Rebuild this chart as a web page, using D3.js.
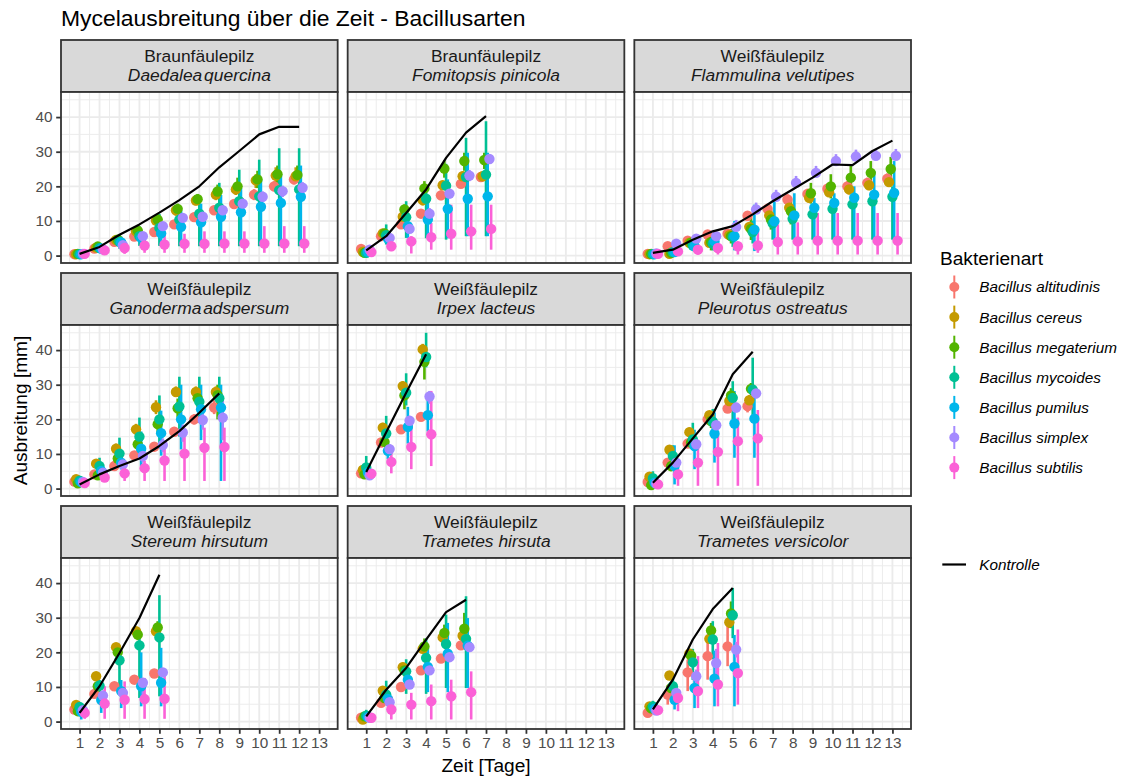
<!DOCTYPE html>
<html>
<head>
<meta charset="utf-8">
<script src="https://cdn.jsdelivr.net/npm/d3@7"></script>
<style>
  body { margin: 0; background: #ffffff; }
  text { font-family: "Liberation Sans", Arial, sans-serif; }
</style>
</head>
<body>
<svg id="chart" width="1124" height="776"></svg>
<script>
// ---- labels -------------------------------------------------------------
const speciesNames = ["Bacillus altitudinis", "Bacillus cereus", "Bacillus megaterium",
  "Bacillus mycoides", "Bacillus pumilus", "Bacillus simplex", "Bacillus subtilis"];
const speciesColors = ["#F8766D", "#C49A00", "#53B400", "#00C094", "#00B6EB", "#A58AFF", "#FB61D7"];
const dayTicks = [1, 2, 3, 4, 5, 6, 7, 8, 9, 10, 11, 12, 13];
const yTicks = [0, 10, 20, 30, 40];
const decayTypes = ["Braunfäulepilz", "Braunfäulepilz", "Weißfäulepilz", "Weißfäulepilz",
  "Weißfäulepilz", "Weißfäulepilz", "Weißfäulepilz", "Weißfäulepilz", "Weißfäulepilz"];
const fungusNames = ["Daedalea quercina", "Fomitopsis pinicola", "Flammulina velutipes",
  "Ganoderma adspersum", "Irpex lacteus", "Pleurotus ostreatus", "Stereum hirsutum",
  "Trametes hirsuta", "Trametes versicolor"];

// ---- growth in mm per day: one row per Bacillus species ----------------
const daedaleaMean = [
  [0.4, 2.0, 4.0, 5.5, 6.8, 9.0, 11.1, 13.1, 14.9, 17.6, 20.0, 22.0],
  [0.4, 2.3, 4.5, 7.0, 10.1, 13.1, 15.9, 17.6, 19.1, 21.7, 23.1, 22.9],
  [0.5, 2.6, 4.6, 7.2, 10.4, 13.5, 16.3, 18.5, 20.0, 22.0, 23.5, 23.3],
  [0.4, 2.2, 4.0, 5.6, 8.0, 10.4, 12.1, 13.8, 15.7, 17.1, 18.9, 19.1],
  [0.4, 2.0, 3.8, 5.1, 6.4, 8.3, 9.6, 11.2, 12.5, 14.1, 15.2, 17.0],
  [0.5, 1.8, 3.0, 5.6, 8.5, 10.9, 11.2, 13.1, 15.0, 17.0, 18.6, 19.6],
  [0.5, 1.5, 2.2, 2.9, 3.2, 3.4, 3.4, 3.5, 3.5, 3.5, 3.5, 3.5]];
const daedaleaLow = [
  [0.1, 1.5, 3.4, 4.8, 6.0, 8.0, 9.8, 11.8, 13.6, 16.0, 18.5, 20.5],
  [0.1, 1.8, 3.8, 6.0, 8.8, 11.5, 14.5, 16.0, 17.5, 19.5, 21.0, 21.0],
  [0.2, 2.0, 4.0, 6.2, 9.0, 12.0, 14.8, 16.5, 18.0, 19.5, 21.0, 21.0],
  [0.1, 1.2, 2.0, 2.8, 2.8, 2.7, 2.7, 2.7, 2.7, 2.7, 2.7, 2.7],
  [0.1, 1.2, 2.5, 3.2, 3.5, 3.0, 2.8, 2.8, 2.8, 2.8, 2.8, 2.8],
  [0.2, 1.2, 2.2, 4.5, 7.2, 9.6, 9.5, 11.6, 13.4, 15.5, 16.9, 18.0],
  [0.2, 0.6, 0.5, 0.8, 0.8, 0.8, 0.8, 0.8, 0.8, 0.8, 0.8, 0.8]];
const daedaleaHigh = [
  [0.8, 2.5, 4.6, 6.2, 7.6, 10.0, 12.4, 14.4, 16.2, 19.2, 21.5, 23.5],
  [0.8, 2.8, 5.2, 8.0, 11.2, 14.5, 17.5, 19.5, 21.0, 23.5, 25.5, 25.5],
  [0.9, 3.0, 5.3, 8.3, 11.8, 15.0, 17.8, 20.5, 22.5, 24.5, 26.0, 26.0],
  [0.8, 3.5, 6.0, 8.5, 12.0, 13.5, 16.0, 21.0, 24.8, 27.7, 31.0, 31.0],
  [0.8, 3.0, 5.5, 7.5, 10.0, 13.0, 15.0, 17.5, 19.5, 22.0, 23.5, 26.0],
  [0.8, 2.4, 4.0, 6.6, 9.8, 12.2, 12.9, 14.6, 16.6, 18.5, 20.2, 21.2],
  [0.8, 2.5, 4.5, 5.0, 6.3, 6.3, 7.0, 7.0, 7.0, 8.5, 8.5, 8.5]];
const daedaleaControl = [0.5, 2.5, 6.0, 9.0, 12.4, 16.0, 20.0, 25.5, 30.2, 35.0, 37.2, 37.2];

const fomitopsisMean = [
  [1.9, 5.6, 9.0, 12.1, 17.4, 20.7, 22.7],
  [1.1, 6.4, 11.2, 16.0, 20.3, 22.9, 22.9],
  [0.8, 6.4, 13.3, 19.4, 25.1, 27.3, 27.6],
  [0.8, 5.9, 11.1, 16.4, 20.2, 22.7, 23.4],
  [1.1, 4.9, 8.5, 10.4, 13.5, 16.4, 17.1],
  [1.7, 5.1, 7.7, 12.1, 17.9, 23.1, 27.9],
  [1.0, 2.7, 4.1, 5.3, 6.3, 7.0, 7.7]];
const fomitopsisLow = [
  [1.2, 4.8, 8.0, 11.0, 16.0, 19.5, 21.5],
  [0.5, 5.5, 10.0, 14.5, 19.0, 21.5, 21.5],
  [0.3, 5.5, 12.0, 17.5, 22.5, 24.5, 25.0],
  [0.3, 3.2, 5.1, 5.0, 4.6, 5.6, 5.6],
  [0.4, 3.0, 5.0, 5.5, 5.0, 5.6, 5.6],
  [1.0, 4.2, 6.5, 10.5, 16.5, 21.5, 26.5],
  [0.4, 1.3, 0.6, 1.7, 1.7, 1.7, 1.7]];
const fomitopsisHigh = [
  [2.6, 6.4, 10.0, 13.2, 18.8, 22.0, 24.0],
  [1.8, 7.3, 12.4, 17.5, 21.6, 24.3, 24.3],
  [1.4, 7.5, 14.8, 21.5, 27.5, 29.7, 29.7],
  [1.6, 9.0, 15.7, 20.0, 26.5, 34.0, 38.8],
  [1.8, 6.8, 12.0, 15.5, 22.0, 29.7, 29.7],
  [2.4, 6.0, 8.9, 13.7, 19.3, 24.7, 29.3],
  [1.6, 4.1, 5.6, 9.4, 14.7, 14.7, 14.7]];
const fomitopsisControl = [1.5, 5.6, 12.3, 19.1, 28.2, 35.5, 40.3];

const flammulinaMean = [
  [0.5, 2.7, 4.3, 6.1, 6.3, 11.5, 13.5, 16.2, 17.8, 19.3, 20.0, 21.0, 22.2],
  [0.4, 0.5, 3.7, 3.7, 5.9, 8.3, 11.6, 13.8, 16.7, 18.3, 19.1, 20.3, 21.2],
  [0.5, 0.8, 3.7, 3.9, 5.6, 7.7, 10.4, 12.8, 18.0, 20.0, 22.5, 23.9, 25.0],
  [0.4, 1.0, 2.9, 3.5, 5.4, 6.8, 9.3, 10.6, 11.9, 13.5, 14.8, 15.7, 17.0],
  [0.4, 1.0, 2.7, 4.1, 5.6, 7.5, 9.9, 11.6, 13.8, 15.2, 16.7, 17.6, 18.1],
  [0.6, 3.4, 4.9, 5.6, 8.3, 13.3, 17.0, 21.0, 23.9, 27.3, 28.6, 28.8, 28.8],
  [0.5, 1.2, 1.7, 2.2, 2.7, 2.9, 3.9, 4.1, 4.3, 4.3, 4.3, 4.3, 4.3]];
const flammulinaLow = [
  [0.2, 2.0, 3.4, 5.2, 5.3, 10.2, 12.0, 14.7, 16.3, 17.8, 18.5, 19.5, 20.7],
  [0.1, 0.2, 2.9, 2.9, 4.9, 7.1, 10.2, 12.4, 15.3, 16.9, 17.7, 18.9, 19.8],
  [0.2, 0.3, 2.5, 1.5, 3.5, 4.5, 7.5, 9.0, 15.0, 16.5, 19.0, 20.5, 21.5],
  [0.1, 0.3, 1.5, 1.5, 2.5, 3.5, 4.6, 4.6, 4.6, 4.6, 4.6, 4.6, 4.6],
  [0.1, 0.3, 1.2, 1.5, 1.5, 1.3, 4.6, 4.6, 4.6, 4.6, 4.6, 4.6, 4.6],
  [0.3, 2.6, 3.9, 4.6, 7.3, 12.3, 16.0, 20.0, 22.9, 26.3, 27.6, 27.8, 27.8],
  [0.2, 0.4, 0.3, 0.3, 0.3, 0.8, 0.3, 0.3, 0.3, 0.3, 0.3, 0.3, 0.3]];
const flammulinaHigh = [
  [0.8, 3.4, 5.2, 7.0, 7.3, 12.8, 15.0, 17.7, 19.3, 20.8, 21.5, 22.5, 23.7],
  [0.7, 0.8, 4.5, 4.5, 6.9, 9.5, 13.0, 15.2, 18.1, 19.7, 20.5, 21.7, 22.6],
  [0.8, 1.3, 4.9, 6.3, 7.7, 10.9, 13.3, 16.6, 21.0, 23.5, 26.0, 27.3, 28.5],
  [0.7, 1.7, 4.3, 5.5, 8.3, 10.1, 12.3, 13.6, 14.9, 16.5, 17.8, 18.7, 20.0],
  [0.7, 1.7, 4.2, 6.7, 10.0, 14.7, 18.1, 18.0, 16.6, 18.0, 20.0, 24.4, 27.3],
  [0.9, 4.2, 5.9, 6.6, 10.3, 15.3, 19.0, 23.0, 25.9, 29.3, 30.6, 30.8, 30.8],
  [0.8, 2.0, 3.2, 3.5, 4.0, 7.5, 9.0, 9.6, 12.3, 12.3, 12.3, 12.3, 12.3]];
const flammulinaControl = [0.8, 1.7, 4.6, 7.0, 8.5, 11.9, 15.7, 19.1, 22.5, 26.3, 26.1, 30.2, 33.2];

const ganodermaMean = [
  [2.0, 4.1, 6.5, 9.6, 12.1, 16.4, 20.0, 23.4],
  [2.7, 7.2, 11.5, 17.1, 23.5, 27.9, 27.9, 27.9],
  [1.5, 3.8, 8.7, 12.8, 18.6, 23.2, 26.1, 27.0],
  [2.3, 6.5, 10.1, 15.0, 20.0, 23.7, 25.1, 26.1],
  [1.9, 5.1, 7.5, 11.5, 16.0, 20.0, 22.9, 23.4],
  [1.9, 4.6, 7.0, 9.4, 12.6, 16.2, 19.8, 20.5],
  [1.6, 3.2, 4.4, 5.9, 8.1, 10.1, 11.8, 12.0]];
const ganodermaLow = [
  [1.5, 3.3, 5.5, 8.5, 11.0, 15.0, 18.5, 21.5],
  [1.8, 6.0, 10.0, 15.5, 21.5, 26.5, 26.5, 26.5],
  [0.8, 2.5, 6.5, 10.5, 16.0, 20.5, 23.5, 20.0],
  [1.5, 4.5, 6.5, 8.5, 13.0, 15.0, 19.0, 20.0],
  [1.0, 3.5, 5.5, 6.5, 9.5, 11.3, 14.0, 2.2],
  [1.2, 3.5, 5.5, 7.5, 10.5, 13.5, 17.0, 14.0],
  [1.0, 2.2, 2.2, 2.2, 2.2, 2.2, 2.2, 2.2]];
const ganodermaHigh = [
  [2.6, 5.0, 7.5, 10.7, 13.2, 17.8, 21.5, 25.5],
  [3.5, 8.5, 13.0, 18.7, 25.5, 29.5, 29.5, 29.5],
  [2.3, 5.0, 11.0, 15.0, 21.0, 26.0, 28.5, 30.0],
  [3.2, 8.9, 14.7, 20.5, 26.9, 32.3, 32.3, 32.3],
  [2.8, 6.8, 9.8, 16.5, 22.5, 30.0, 30.0, 30.0],
  [2.6, 5.6, 8.5, 11.2, 14.5, 18.5, 22.5, 26.0],
  [2.3, 4.5, 6.3, 8.0, 12.3, 15.2, 17.6, 17.6]];
const ganodermaControl = [1.2, 4.1, 6.5, 8.7, 12.3, 16.6, 21.9, 27.5];

const irpexMean = [
  [4.4, 13.3, 17.1, 20.7],
  [5.4, 17.6, 29.6, 40.2],
  [4.1, 13.5, 26.9, 36.6],
  [6.1, 15.9, 27.7, 38.0],
  [4.6, 10.9, 17.8, 21.2],
  [3.8, 11.4, 19.6, 26.6],
  [4.3, 7.7, 12.0, 15.7]];
const irpexLow = [
  [3.6, 12.3, 16.0, 19.7],
  [4.5, 16.0, 28.0, 38.5],
  [3.2, 12.0, 22.9, 31.5],
  [4.0, 12.0, 24.0, 35.0],
  [3.5, 8.5, 13.0, 16.5],
  [3.0, 10.0, 18.0, 24.5],
  [3.0, 4.4, 5.6, 6.5]];
const irpexHigh = [
  [5.2, 14.3, 18.2, 21.7],
  [6.3, 19.0, 31.0, 41.8],
  [5.0, 15.0, 29.5, 39.0],
  [9.4, 21.0, 33.3, 45.0],
  [5.8, 13.5, 23.6, 27.0],
  [4.6, 12.8, 21.0, 28.2],
  [5.5, 11.5, 19.5, 28.2]];
const irpexControl = [4.8, 16.3, 27.7, 38.8];

const pleurotusMean = [
  [1.9, 7.5, 13.0, 20.0, 23.1, 23.8],
  [3.4, 11.2, 16.3, 21.2, 25.3, 25.5],
  [1.0, 6.5, 13.3, 19.5, 26.9, 28.8],
  [3.0, 9.4, 14.2, 19.3, 26.2, 28.6],
  [1.7, 6.5, 12.3, 15.9, 18.8, 20.2],
  [1.4, 7.5, 12.8, 18.3, 23.4, 27.5],
  [1.2, 4.1, 7.5, 10.6, 13.7, 14.5]];
const pleurotusLow = [
  [1.0, 6.5, 12.0, 19.0, 22.0, 22.0],
  [2.5, 10.0, 15.0, 20.0, 24.0, 24.0],
  [0.4, 5.0, 11.5, 17.5, 24.0, 27.0],
  [1.5, 6.5, 11.5, 14.5, 20.0, 20.0],
  [0.5, 1.2, 5.6, 7.5, 8.9, 8.9],
  [0.8, 6.5, 11.5, 17.0, 22.0, 26.0],
  [0.4, 0.8, 0.8, 0.8, 0.8, 0.8]];
const pleurotusHigh = [
  [2.8, 8.5, 14.0, 21.0, 24.2, 25.5],
  [4.3, 12.4, 17.6, 22.4, 26.6, 27.0],
  [1.8, 8.0, 15.0, 21.5, 29.0, 30.5],
  [5.0, 12.5, 19.0, 23.0, 31.0, 37.8],
  [3.0, 12.5, 17.0, 22.0, 28.2, 28.2],
  [2.0, 8.5, 14.0, 19.5, 24.8, 29.0],
  [2.0, 6.0, 12.0, 15.8, 20.5, 22.7]];
const pleurotusControl = [1.7, 7.5, 14.5, 21.4, 33.0, 39.5];

const stereumMean = [
  [3.5, 8.0, 10.2, 12.1, 13.9],
  [4.8, 13.1, 21.5, 26.1, 26.1],
  [3.0, 10.2, 20.0, 25.1, 27.2],
  [4.2, 10.4, 17.7, 22.0, 24.3],
  [2.8, 6.2, 8.8, 10.2, 11.2],
  [3.3, 7.5, 8.3, 11.2, 14.2],
  [2.5, 5.2, 6.3, 6.5, 6.6]];
const stereumLow = [
  [2.7, 7.0, 9.2, 11.0, 12.8],
  [4.0, 12.0, 20.3, 25.0, 25.0],
  [2.3, 9.0, 18.5, 23.5, 25.5],
  [3.3, 8.5, 9.0, 6.8, 7.3],
  [0.6, 2.5, 3.9, 4.4, 4.4],
  [2.5, 6.0, 7.0, 6.0, 13.0],
  [0.8, 0.8, 0.8, 0.8, 0.8]];
const stereumHigh = [
  [4.3, 9.0, 11.2, 13.2, 15.0],
  [5.6, 14.2, 22.7, 27.2, 27.2],
  [3.8, 11.5, 21.5, 26.8, 29.0],
  [5.2, 12.0, 22.0, 24.6, 36.5],
  [4.0, 8.5, 12.0, 20.0, 21.3],
  [4.1, 9.0, 9.6, 12.5, 15.4],
  [4.0, 10.2, 11.6, 12.6, 13.5]];
const stereumControl = [2.5, 10.2, 19.8, 29.9, 42.4];

const hirsutaMean = [
  [1.1, 5.4, 10.0, 14.8, 18.2, 22.0],
  [0.6, 8.9, 15.7, 21.0, 24.3, 24.8],
  [1.5, 6.8, 14.8, 21.7, 25.6, 26.8],
  [1.7, 7.8, 14.5, 18.4, 22.4, 23.9],
  [1.3, 6.5, 12.1, 15.8, 19.6, 21.9],
  [1.1, 5.6, 10.7, 14.8, 18.6, 21.5],
  [1.1, 3.5, 4.9, 5.9, 7.3, 8.5]];
const hirsutaLow = [
  [0.6, 4.5, 9.0, 13.8, 17.0, 20.8],
  [0.2, 7.8, 14.5, 19.8, 23.0, 23.5],
  [0.8, 5.5, 13.0, 19.5, 22.0, 24.0],
  [0.6, 5.0, 8.0, 8.0, 9.7, 9.7],
  [0.6, 4.5, 9.5, 8.5, 8.5, 9.7],
  [0.6, 4.6, 9.6, 13.6, 17.4, 20.2],
  [0.6, 0.6, 0.6, 0.6, 0.6, 0.6]];
const hirsutaHigh = [
  [1.6, 6.3, 11.0, 15.8, 19.4, 23.2],
  [1.2, 10.0, 17.0, 22.2, 25.6, 26.2],
  [2.2, 8.5, 17.0, 24.0, 28.0, 31.4],
  [3.4, 11.8, 18.0, 24.0, 30.9, 36.2],
  [2.0, 8.5, 15.0, 22.0, 28.5, 29.9],
  [1.6, 6.6, 11.8, 16.0, 19.8, 22.8],
  [1.6, 7.3, 8.3, 10.7, 12.1, 14.5]];
const hirsutaControl = [1.5, 9.2, 15.5, 23.7, 31.6, 35.2];

const versicolorMean = [
  [2.5, 7.8, 14.2, 18.9, 21.7],
  [4.4, 13.3, 19.6, 23.9, 28.7],
  [3.8, 9.7, 19.0, 26.3, 31.2],
  [4.4, 10.2, 17.1, 23.7, 30.7],
  [3.7, 6.3, 9.7, 12.4, 15.8],
  [3.2, 8.3, 13.1, 16.9, 20.8],
  [3.3, 6.8, 8.8, 10.7, 14.0]];
const versicolorLow = [
  [1.8, 4.9, 8.8, 12.1, 16.0],
  [3.5, 12.0, 18.3, 22.5, 27.0],
  [2.8, 8.0, 17.0, 24.5, 27.0],
  [3.0, 8.0, 12.0, 18.0, 24.1],
  [2.5, 3.5, 3.9, 4.4, 4.4],
  [2.5, 6.5, 11.0, 12.5, 18.5],
  [2.0, 3.0, 3.9, 4.4, 4.9]];
const versicolorHigh = [
  [3.2, 10.5, 17.9, 25.1, 28.5],
  [5.3, 14.6, 21.0, 25.3, 30.5],
  [4.8, 11.5, 21.0, 28.5, 34.7],
  [6.0, 12.5, 21.0, 29.0, 38.6],
  [5.0, 9.5, 13.0, 20.5, 25.0],
  [4.0, 10.0, 15.0, 21.0, 23.0],
  [4.5, 8.8, 18.9, 22.7, 26.6]];
const versicolorControl = [3.5, 12.1, 23.7, 32.5, 38.6];

// ---- panels in facet order ---------------------------------------------
const panelData = [
  { mean: daedaleaMean, low: daedaleaLow, high: daedaleaHigh, control: daedaleaControl },
  { mean: fomitopsisMean, low: fomitopsisLow, high: fomitopsisHigh, control: fomitopsisControl },
  { mean: flammulinaMean, low: flammulinaLow, high: flammulinaHigh, control: flammulinaControl },
  { mean: ganodermaMean, low: ganodermaLow, high: ganodermaHigh, control: ganodermaControl },
  { mean: irpexMean, low: irpexLow, high: irpexHigh, control: irpexControl },
  { mean: pleurotusMean, low: pleurotusLow, high: pleurotusHigh, control: pleurotusControl },
  { mean: stereumMean, low: stereumLow, high: stereumHigh, control: stereumControl },
  { mean: hirsutaMean, low: hirsutaLow, high: hirsutaHigh, control: hirsutaControl },
  { mean: versicolorMean, low: versicolorLow, high: versicolorHigh, control: versicolorControl }
].map((p, i) => Object.assign(p, { type: decayTypes[i], name: fungusNames[i] }));

// ---- layout --------------------------------------------------------------
const plotLeft = 61, plotRight = 911, colGap = 10;
const panelW = (plotRight - plotLeft - 2 * colGap) / 3;
const stripTop = 40, stripH = 52, panelH = 171, rowGap = 10;
const nCols = 3;

const gridColor = "#EBEBEB", frameColor = "#333333";
const tickLen = 4.8, tickPad = 3.8;
const fsTitle = 22.9, fsAxisTitle = 19.1, fsSmall = 15.3, fsStrip = 17.4;

const svg = d3.select("#chart");

// ---- scales (shared by every facet) -------------------------------------
const yMinData = d3.min(panelData, p => d3.min([...p.low.flat(), ...p.mean.flat(), ...p.control]));
const yMaxData = d3.max(panelData, p => d3.max([...p.high.flat(), ...p.mean.flat(), ...p.control]));
const ySpan = yMaxData - yMinData;
const y = d3.scaleLinear()
  .domain([yMinData - 0.05 * ySpan, yMaxData + 0.05 * ySpan])
  .range([panelH, 0]);

const dodgeWidth = 0.6;
const nSpecies = speciesNames.length;
const maxDay = d3.max(dayTicks);
const xLo = 1 - dodgeWidth / 2, xHi = maxDay + dodgeWidth / 2;
const xSpan = xHi - xLo;
const x = d3.scaleLinear()
  .domain([xLo - 0.05 * xSpan, xHi + 0.05 * xSpan])
  .range([0, panelW]);
const dodge = s => -dodgeWidth / 2 + dodgeWidth / nSpecies * (s + 0.5);

const xMinor = d3.range(0.5, maxDay + 1, 1).filter(v => v >= x.domain()[0] && v <= x.domain()[1]);
const yMinor = d3.range(-5, 55, 10).filter(v => v >= y.domain()[0] && v <= y.domain()[1]);

const line = d3.line().x((d, i) => x(i + 1)).y(d => y(d));

// ---- title ----------------------------------------------------------------
svg.append("text")
  .attr("x", plotLeft).attr("y", 26)
  .attr("font-size", fsTitle).attr("fill", "#000")
  .text("Mycelausbreitung über die Zeit - Bacillusarten");

// ---- facets ---------------------------------------------------------------
panelData.forEach((p, i) => {
  const row = Math.floor(i / nCols), col = i % nCols;
  const gx = plotLeft + col * (panelW + colGap);
  const gy = stripTop + row * (stripH + panelH + rowGap);
  const g = svg.append("g").attr("transform", `translate(${gx},${gy})`);

  // strip
  g.append("rect").attr("x", 0).attr("y", 0).attr("width", panelW).attr("height", stripH)
    .attr("fill", "#D9D9D9").attr("stroke", frameColor).attr("stroke-width", 1.8);
  g.append("text").attr("x", panelW / 2).attr("y", 21.7)
    .attr("text-anchor", "middle").attr("font-size", fsStrip).attr("fill", "#1A1A1A")
    .text(p.type);
  const nameText = g.append("text").attr("x", panelW / 2).attr("y", 41.2)
    .attr("text-anchor", "middle").attr("font-size", fsStrip).attr("fill", "#1A1A1A")
    .attr("font-style", "italic")
    .text(p.name);
  if (p.name === "Daedalea quercina" || p.name === "Ganoderma adspersum") {
    nameText.attr("word-spacing", "-3px");
  }

  const pg = g.append("g").attr("transform", `translate(0,${stripH})`);
  pg.append("rect").attr("width", panelW).attr("height", panelH).attr("fill", "#fff");

  // grid
  pg.selectAll(".xminor").data(xMinor).join("line")
    .attr("x1", d => x(d)).attr("x2", d => x(d)).attr("y1", 0).attr("y2", panelH)
    .attr("stroke", gridColor).attr("stroke-width", 0.95);
  pg.selectAll(".yminor").data(yMinor).join("line")
    .attr("y1", d => y(d)).attr("y2", d => y(d)).attr("x1", 0).attr("x2", panelW)
    .attr("stroke", gridColor).attr("stroke-width", 0.95);
  pg.selectAll(".xmajor").data(dayTicks).join("line")
    .attr("x1", d => x(d)).attr("x2", d => x(d)).attr("y1", 0).attr("y2", panelH)
    .attr("stroke", gridColor).attr("stroke-width", 1.85);
  pg.selectAll(".ymajor").data(yTicks).join("line")
    .attr("y1", d => y(d)).attr("y2", d => y(d)).attr("x1", 0).attr("x2", panelW)
    .attr("stroke", gridColor).attr("stroke-width", 1.85);

  // point ranges: all ranges first, then all points
  const rows = [];
  p.mean.forEach((vals, s) => vals.forEach((v, d) => {
    rows.push({ s, day: d + 1, mean: v, low: p.low[s][d], high: p.high[s][d] });
  }));
  pg.append("g").selectAll("line").data(rows).join("line")
    .attr("x1", d => x(d.day + dodge(d.s))).attr("x2", d => x(d.day + dodge(d.s)))
    .attr("y1", d => y(d.low)).attr("y2", d => y(d.high))
    .attr("stroke", d => speciesColors[d.s]).attr("stroke-width", 2.6);
  pg.append("g").selectAll("circle").data(rows).join("circle")
    .attr("cx", d => x(d.day + dodge(d.s))).attr("cy", d => y(d.mean))
    .attr("r", 5.2).attr("fill", d => speciesColors[d.s]);

  // control without bacteria
  pg.append("path").datum(p.control).attr("d", line)
    .attr("fill", "none").attr("stroke", "#000").attr("stroke-width", 2.2)
    .attr("stroke-linejoin", "round");

  // frame
  pg.append("rect").attr("width", panelW).attr("height", panelH)
    .attr("fill", "none").attr("stroke", frameColor).attr("stroke-width", 1.8);

  // axes on outer facets only
  const bottomRow = i + nCols >= panelData.length;
  if (col === 0) {
    const ax = pg.append("g").call(d3.axisLeft(y).tickValues(yTicks).tickSize(tickLen).tickPadding(tickPad));
    ax.select(".domain").remove();
    ax.selectAll("line").attr("stroke", frameColor).attr("stroke-width", 1.8);
    ax.selectAll("text").attr("font-size", fsSmall).attr("fill", "#4D4D4D")
      .attr("font-family", "Liberation Sans, Arial, sans-serif");
  }
  if (bottomRow) {
    const ax = pg.append("g").attr("transform", `translate(0,${panelH})`)
      .call(d3.axisBottom(x).tickValues(dayTicks).tickSize(tickLen).tickPadding(tickPad));
    ax.select(".domain").remove();
    ax.selectAll("line").attr("stroke", frameColor).attr("stroke-width", 1.8);
    ax.selectAll("text").attr("font-size", fsSmall).attr("fill", "#4D4D4D")
      .attr("font-family", "Liberation Sans, Arial, sans-serif");
  }
});

// ---- axis titles ------------------------------------------------------------
const panelsBottom = stripTop + 3 * (stripH + panelH) + 2 * rowGap;
svg.append("text")
  .attr("x", (plotLeft + plotRight) / 2).attr("y", 772)
  .attr("text-anchor", "middle").attr("font-size", fsAxisTitle).attr("fill", "#000")
  .text("Zeit [Tage]");
svg.append("text")
  .attr("transform", `translate(27,${(stripTop + stripH + panelsBottom) / 2}) rotate(-90)`)
  .attr("text-anchor", "middle").attr("font-size", fsAxisTitle).attr("fill", "#000")
  .text("Ausbreitung [mm]");

// ---- legend -----------------------------------------------------------------
const legend = svg.append("g").attr("transform", "translate(940,0)");
legend.append("text").attr("x", 0).attr("y", 265)
  .attr("font-size", fsAxisTitle).attr("fill", "#000").text("Bakterienart");
const items = legend.selectAll(".item").data(speciesNames).join("g")
  .attr("transform", (d, i) => `translate(0,${287 + i * 30.1})`);
items.append("line").attr("x1", 14.3).attr("x2", 14.3).attr("y1", -11.5).attr("y2", 11.5)
  .attr("stroke", (d, i) => speciesColors[i]).attr("stroke-width", 2);
items.append("circle").attr("cx", 14.3).attr("cy", 0).attr("r", 5)
  .attr("fill", (d, i) => speciesColors[i]);
items.append("text").attr("x", 39.3).attr("y", 5.4)
  .attr("font-size", fsSmall).attr("font-style", "italic").attr("fill", "#000").text(d => d);

const ctrl = legend.append("g").attr("transform", "translate(0,564.5)");
ctrl.append("line").attr("x1", 2.3).attr("x2", 26).attr("y1", 0).attr("y2", 0)
  .attr("stroke", "#000").attr("stroke-width", 2.2);
ctrl.append("text").attr("x", 39.3).attr("y", 5.4)
  .attr("font-size", fsSmall).attr("font-style", "italic").attr("fill", "#000").text("Kontrolle");
</script>
</body>
</html>
